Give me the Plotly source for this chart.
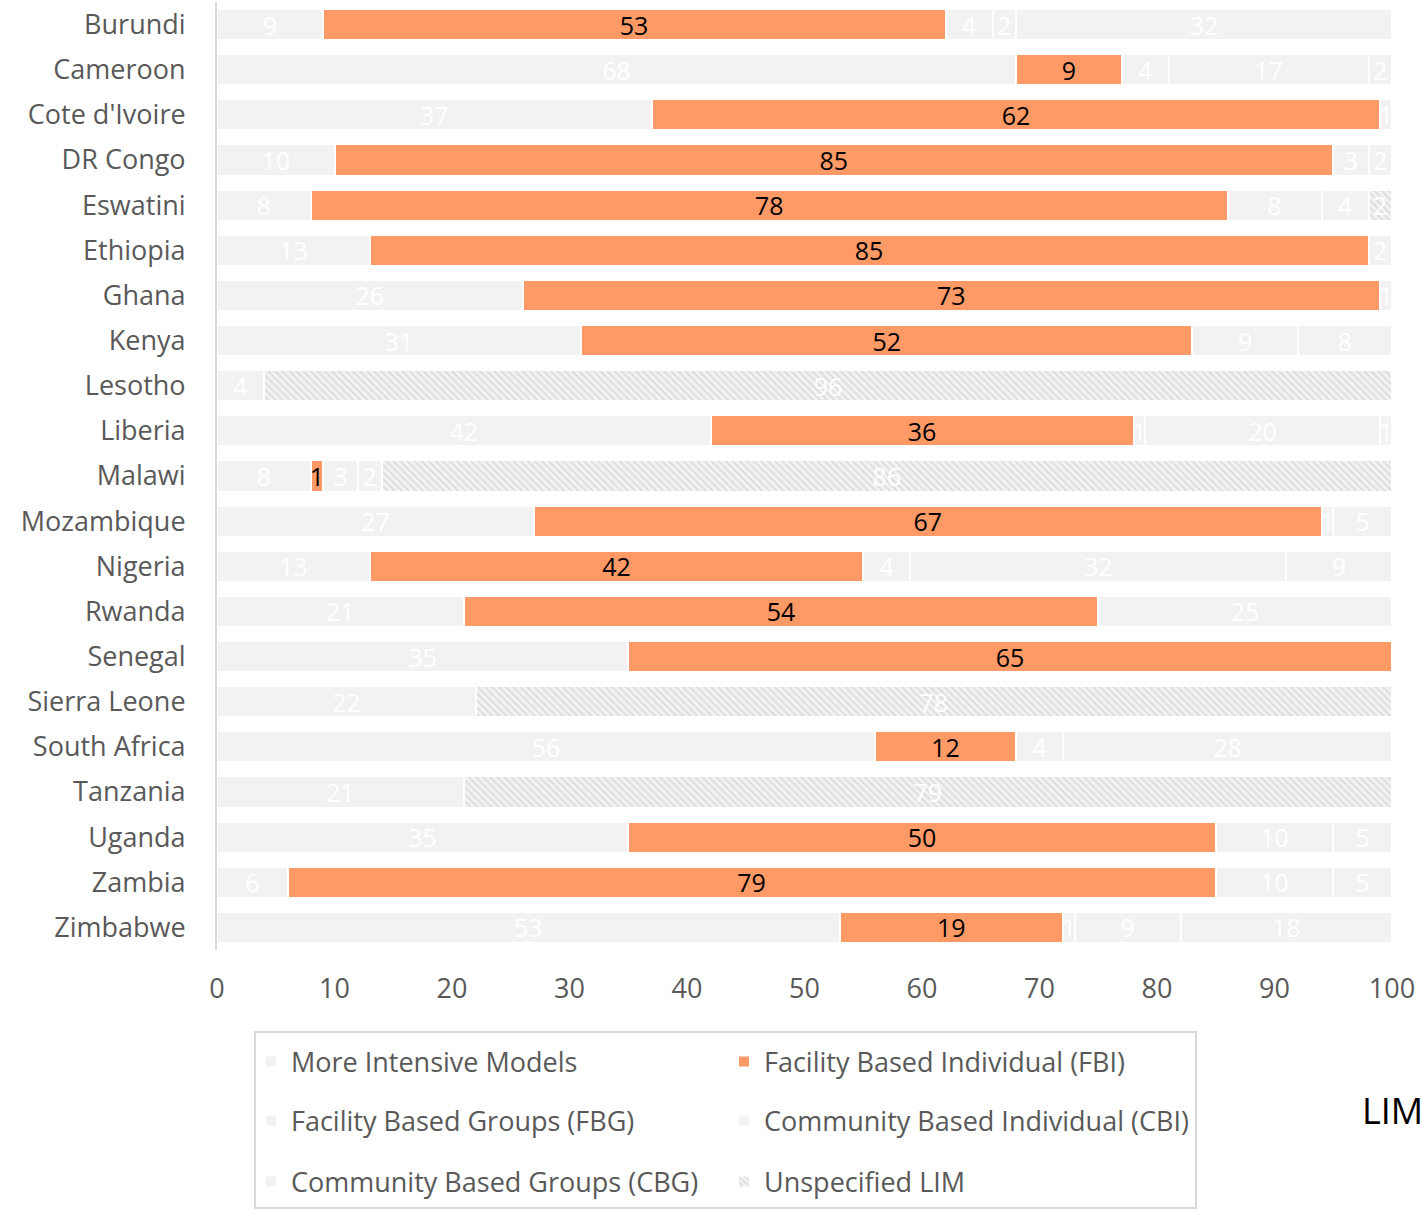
import plotly.graph_objects as go

# Share of people on each differentiated service delivery model, by country (%)
countries = ["Burundi", "Cameroon", "Cote d'Ivoire", "DR Congo", "Eswatini", "Ethiopia",
             "Ghana", "Kenya", "Lesotho", "Liberia", "Malawi", "Mozambique", "Nigeria",
             "Rwanda", "Senegal", "Sierra Leone", "South Africa", "Tanzania", "Uganda",
             "Zambia", "Zimbabwe"]

more_intensive = [9, 68, 37, 10, 8, 13, 26, 31, 4, 42, 8, 27, 13, 21, 35, 22, 56, 21, 35, 6, 53]
facility_indiv = [53, 9, 62, 85, 78, 85, 73, 52, 0, 36, 1, 67, 42, 54, 65, 0, 12, 0, 50, 79, 19]
facility_groups = [4, 4, 0, 3, 8, 2, 1, 9, 0, 1, 3, 1, 4, 0, 0, 0, 4, 0, 10, 10, 1]
community_indiv = [2, 17, 0, 2, 4, 0, 0, 8, 0, 20, 2, 0, 32, 25, 0, 0, 28, 0, 5, 5, 9]
community_groups = [32, 2, 1, 0, 0, 0, 0, 0, 0, 1, 0, 5, 9, 0, 0, 0, 0, 0, 0, 0, 18]
unspecified_lim = [0, 0, 0, 0, 2, 0, 0, 0, 96, 0, 86, 0, 0, 0, 0, 78, 0, 79, 0, 0, 0]

x_ticks = [0, 10, 20, 30, 40, 50, 60, 70, 80, 90, 100]

FONT = "Open Sans"
GREY = "#f2f2f2"
ORANGE = "#ff9966"
TEXT_GREY = "#595959"

series = [
    ("More Intensive Models", more_intensive, GREY, "white", None, "legend"),
    ("Facility Based Individual (FBI)", facility_indiv, ORANGE, "black", None, "legend"),
    ("Facility Based Groups (FBG)", facility_groups, GREY, "white", None, "legend2"),
    ("Community Based Individual (CBI)", community_indiv, GREY, "white", None, "legend2"),
    ("Community Based Groups (CBG)", community_groups, GREY, "white", None, "legend3"),
    ("Unspecified LIM", unspecified_lim, GREY, "white",
     dict(shape="\\", fgcolor="#c4c4c4", bgcolor=GREY, size=5, solidity=0.35), "legend3"),
]

fig = go.Figure()
for name, vals, color, tcolor, pattern, leg in series:
    marker = dict(color=color, line=dict(color="white", width=2))
    if pattern:
        marker["pattern"] = pattern
    fig.add_trace(go.Bar(
        name=name, y=countries, x=vals, orientation="h",
        marker=marker,
        text=[str(v) if v else "" for v in vals],
        textposition="inside", insidetextanchor="middle",
        constraintext="none", textangle=0,
        insidetextfont=dict(family=FONT, size=25, color=tcolor),
        legend=leg,
    ))

H = 1211
leg_common = dict(orientation="h", entrywidth=428, traceorder="normal",
                  xref="container", yref="container",
                  x=251 / 1422, xanchor="left", yanchor="middle",
                  font=dict(family=FONT, size=27, color=TEXT_GREY),
                  bgcolor="rgba(0,0,0,0)", borderwidth=0, itemclick=False)

fig.update_layout(
    width=1422, height=H,
    margin=dict(l=217, r=30, t=2, b=261),
    barmode="stack", bargap=0.31,
    plot_bgcolor="white", paper_bgcolor="white",
    font=dict(family=FONT, size=27, color=TEXT_GREY),
    xaxis=dict(range=[0, 100], tickvals=x_ticks, showgrid=False, zeroline=False,
               showline=False, ticks="", ticklabelstandoff=20,
               tickfont=dict(family=FONT, size=27, color=TEXT_GREY)),
    yaxis=dict(autorange="reversed", showgrid=False, zeroline=False,
               showline=True, linecolor="#d9d9d9", linewidth=2, ticks="",
               ticklabelstandoff=24,
               tickfont=dict(family=FONT, size=27, color=TEXT_GREY)),
    legend=dict(leg_common, y=1 - 1062 / H),
    legend2=dict(leg_common, y=1 - 1121 / H),
    legend3=dict(leg_common, y=1 - 1182 / H),
    showlegend=True,
)

# Frame around the three legend rows
fig.add_shape(type="rect", xref="paper", yref="paper",
              x0=(255 - 217) / 1175, x1=(1196 - 217) / 1175,
              y0=(950 - 1208) / 948, y1=(950 - 1032) / 948,
              line=dict(color="#d9d9d9", width=2), fillcolor="rgba(0,0,0,0)")

fig.add_annotation(text="LIM", xref="paper", yref="paper",
                   x=(1360 - 217) / 1175, y=(950 - 1110) / 948,
                   xanchor="left", yanchor="middle", showarrow=False,
                   font=dict(family=FONT, size=36, color="black"))

fig.write_html("out.html")
